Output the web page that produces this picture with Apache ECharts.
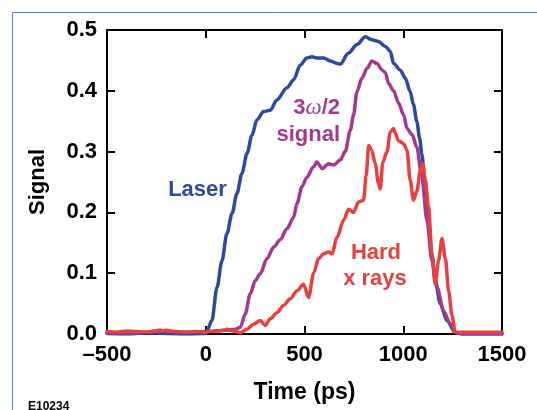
<!DOCTYPE html>
<html>
<head>
<meta charset="utf-8">
<script src="https://cdn.jsdelivr.net/npm/echarts@6/dist/echarts.min.js"></script>
<style>
html,body{margin:0;padding:0;background:#fff;}
#chart{width:537px;height:410px;}
</style>
</head>
<body>
<div id="chart"></div>
<script>
// ---- data (time in ps, signal in arb. units) ----
var xTicks = [-500, 0, 500, 1000, 1500];
var yTicks = [0.0, 0.1, 0.2, 0.3, 0.4, 0.5];

var laserTime = [-500,-400,-300,-200,-100,0,6,31,57,82,107,133,158,183,209,234,259,293,327,360,411,445,478,512,538,563,597,631,665,681,723,766,808,841,875,909,934,951,985,1010,1035,1052,1069,1083,1094,1111,1128,1145,1162,1187,1221,1263,1300,1400,1500];
var laserSignal = [0.001,0.000,0.002,0.001,0.000,0.001,0.005,0.022,0.077,0.120,0.165,0.198,0.231,0.264,0.297,0.327,0.352,0.366,0.368,0.385,0.405,0.418,0.442,0.454,0.456,0.454,0.454,0.449,0.445,0.444,0.462,0.476,0.489,0.484,0.481,0.473,0.465,0.445,0.434,0.421,0.399,0.377,0.349,0.322,0.296,0.242,0.187,0.132,0.088,0.050,0.022,0.003,0.000,0.000,0.000];

var halfTime = [-500,-400,-300,-230,-200,-100,0,100,150,175,200,225,251,276,310,344,377,411,445,462,487,512,546,563,589,622,648,681,706,732,748,766,791,817,841,867,893,909,926,951,976,1002,1019,1045,1069,1094,1120,1145,1171,1204,1238,1263,1300,1500];
var halfSignal = [0.002,0.002,0.003,0.006,0.004,0.003,0.004,0.006,0.008,0.011,0.033,0.066,0.088,0.099,0.124,0.143,0.155,0.173,0.192,0.215,0.242,0.258,0.275,0.283,0.272,0.280,0.278,0.286,0.300,0.335,0.360,0.399,0.421,0.437,0.449,0.445,0.434,0.430,0.412,0.400,0.380,0.360,0.338,0.328,0.307,0.258,0.187,0.121,0.077,0.038,0.017,0.003,0.000,0.000];

var xrayTime = [-500,-450,-400,-350,-300,-250,-200,-150,-100,-50,0,23,60,90,107,141,175,209,242,276,301,327,360,394,428,462,495,521,546,571,597,622,639,665,698,723,748,774,799,812,825,841,858,875,884,896,918,934,951,960,976,1002,1019,1035,1052,1069,1086,1099,1111,1128,1145,1162,1179,1196,1213,1230,1247,1263,1300,1400,1500];
var xraySignal = [0.004,0.003,0.005,0.004,0.003,0.005,0.006,0.004,0.003,0.004,0.003,0.004,0.005,0.006,0.008,0.005,0.002,0.008,0.016,0.022,0.014,0.025,0.035,0.047,0.058,0.071,0.082,0.060,0.100,0.124,0.132,0.135,0.132,0.159,0.187,0.205,0.200,0.217,0.220,0.260,0.310,0.302,0.280,0.247,0.239,0.282,0.300,0.332,0.338,0.330,0.318,0.313,0.302,0.253,0.220,0.235,0.268,0.280,0.255,0.209,0.130,0.082,0.121,0.157,0.125,0.070,0.030,0.003,0.003,0.003,0.003];

var seriesNames = ['Laser', '3\u03c9/2 signal', 'Hard x rays'];
var colors = ['#2c4b9e', '#a5398f', '#e6403f'];

function pairs(xs, ys){ return xs.map(function(x,i){ return [x, ys[i]]; }); }

var FONT = '"Liberation Sans", Arial, Helvetica, sans-serif';
var chart = echarts.init(document.getElementById('chart'), null, {renderer:'canvas'});

function lineSeries(idx, xs, ys){
  return {
    name: seriesNames[idx], type:'line', data: pairs(xs, ys),
    xAxisIndex:0, yAxisIndex:0, showSymbol:false, smooth:0.3, smoothMonotone:'x',
    lineStyle:{color:colors[idx], width:3.5, join:'round', cap:'round'}, itemStyle:{color:colors[idx]}, z: 3+idx
  };
}

var axisCommon = {
  axisLine:{show:true, onZero:false, lineStyle:{color:'#000', width:2}},
  axisTick:{show:true, inside:true, length:8, lineStyle:{color:'#000', width:2}},
  splitLine:{show:false}
};

var option = {
  animation:false,
  backgroundColor:'#fff',
  grid:{left:107, right:35, top:30, bottom:76, containLabel:false},
  xAxis:[
    Object.assign({}, axisCommon, {
      type:'value', min:xTicks[0], max:xTicks[xTicks.length-1], interval:500, position:'bottom',
      name:'Time (ps)', nameLocation:'middle', nameGap:47,
      nameTextStyle:{fontFamily:FONT, fontWeight:'bold', fontSize:23, color:'#000'},
      axisLabel:{show:true, margin:10, fontFamily:FONT, fontWeight:'bold', fontSize:22, color:'#000',
        formatter:function(v){ return v<0 ? '\u2013'+Math.abs(v) : String(v); }}
    }),
    Object.assign({}, axisCommon, {
      type:'value', min:xTicks[0], max:xTicks[xTicks.length-1], interval:500, position:'top',
      axisLabel:{show:false}
    })
  ],
  yAxis:[
    Object.assign({}, axisCommon, {
      type:'value', min:yTicks[0], max:yTicks[yTicks.length-1], interval:0.1, position:'left',
      name:'Signal', nameLocation:'middle', nameGap:58,
      nameTextStyle:{fontFamily:FONT, fontWeight:'bold', fontSize:22, color:'#000'},
      axisLabel:{show:true, margin:10, fontFamily:FONT, fontWeight:'bold', fontSize:22, color:'#000',
        formatter:function(v){ return v.toFixed(1); }}
    }),
    Object.assign({}, axisCommon, {
      type:'value', min:yTicks[0], max:yTicks[yTicks.length-1], interval:0.1, position:'right',
      axisLabel:{show:false}
    })
  ],
  series:[
    lineSeries(0, laserTime, laserSignal),
    lineSeries(1, halfTime, halfSignal),
    lineSeries(2, xrayTime, xraySignal)
  ],
  graphic:[
    {type:'line', shape:{x1:12.5, y1:12.5, x2:537, y2:12.5}, style:{stroke:'#5d7cc6', lineWidth:1}, silent:true},
    {type:'line', shape:{x1:12.5, y1:12.5, x2:12.5, y2:410}, style:{stroke:'#5d7cc6', lineWidth:1}, silent:true},
    {type:'text', x:197.5, y:190, style:{text:'Laser', font:'bold 22px '+FONT, fill:colors[0], align:'center', verticalAlign:'middle', textAlign:'center', textVerticalAlign:'middle'}},
    {type:'text', x:340, y:108, style:{text:'3{w|\u03c9}/2', font:'bold 22px '+FONT, fill:colors[1], align:'right', verticalAlign:'middle', textAlign:'right', textVerticalAlign:'middle',
      rich:{w:{fontFamily:'"Liberation Serif", serif', fontStyle:'italic', fontWeight:'normal', fontSize:23, fill:colors[1], color:colors[1]}}}},
    {type:'text', x:340, y:135, style:{text:'signal', font:'bold 22px '+FONT, fill:colors[1], align:'right', verticalAlign:'middle', textAlign:'right', textVerticalAlign:'middle'}},
    {type:'text', x:376, y:253, style:{text:'Hard', font:'bold 22px '+FONT, fill:colors[2], align:'center', verticalAlign:'middle', textAlign:'center', textVerticalAlign:'middle'}},
    {type:'text', x:375, y:279, style:{text:'x rays', font:'bold 22px '+FONT, fill:colors[2], align:'center', verticalAlign:'middle', textAlign:'center', textVerticalAlign:'middle'}},
    {type:'text', x:28, y:407, style:{text:'E10234', font:'bold 12px '+FONT, fill:'#000', align:'left', verticalAlign:'middle', textAlign:'left', textVerticalAlign:'middle'}}
  ]
};
chart.setOption(option);
</script>
</body>
</html>
